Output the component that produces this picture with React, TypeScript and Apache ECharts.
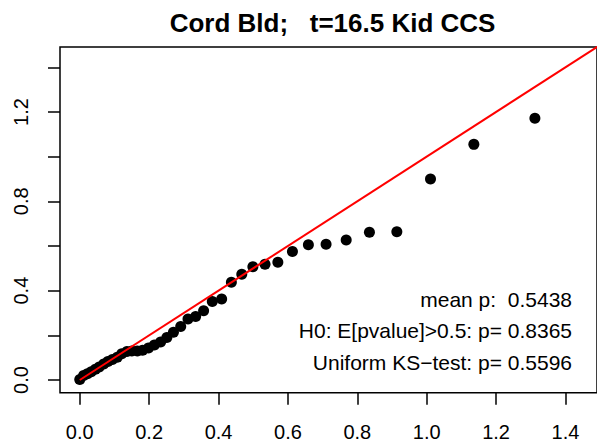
import React, { useEffect, useRef } from "react";
import * as echarts from "echarts";

const titleText = "Cord Bld;   t=16.5 Kid CCS";
const expectedQ = [1.312, 1.136, 1.011, 0.914, 0.835, 0.768, 0.71, 0.659, 0.613, 0.571, 0.534, 0.499, 0.467, 0.437, 0.409, 0.382, 0.357, 0.334, 0.312, 0.291, 0.27, 0.251, 0.233, 0.215, 0.198, 0.181, 0.166, 0.15, 0.136, 0.121, 0.108, 0.094, 0.081, 0.069, 0.056, 0.045, 0.033, 0.022, 0.011, 0.0];
const observedQ = [1.172, 1.055, 0.9, 0.664, 0.661, 0.627, 0.608, 0.605, 0.575, 0.527, 0.518, 0.507, 0.473, 0.438, 0.363, 0.351, 0.31, 0.284, 0.273, 0.239, 0.214, 0.19, 0.17, 0.157, 0.143, 0.133, 0.13, 0.13, 0.127, 0.117, 0.102, 0.092, 0.083, 0.072, 0.058, 0.048, 0.037, 0.028, 0.02, 0.002];
const refLine = [[0, 0], [1.6, 1.6]];
const xTicks = [0, 0.2, 0.4, 0.6, 0.8, 1.0, 1.2, 1.4];
const yTicks = [0, 0.2, 0.4, 0.6, 0.8, 1.0, 1.2, 1.4];
const yLabels = [0, 0.4, 0.8, 1.2];
const statLines = ["mean p:  0.5438", "H0: E[pvalue]>0.5: p= 0.8365", "Uniform KS\u2212test: p= 0.5596"];

export default function App() {
  const ref = useRef<HTMLDivElement>(null);
  useEffect(() => {
    if (!ref.current) return;
    const chart = echarts.init(ref.current, null, { renderer: "svg" });
    const font = "Liberation Sans, Arial, Helvetica, sans-serif";
    const statY = [299.7, 330.5, 362.2];
    chart.setOption({
      animation: false,
      backgroundColor: "#ffffff",
      grid: {
        left: 60,
        top: 47,
        width: 545,
        height: 345.7,
        show: true,
        borderColor: "#000",
        borderWidth: 1.5,
        backgroundColor: "transparent",
      },
      xAxis: {
        type: "value",
        min: -0.057,
        max: 1.491,
        axisLine: { show: false, onZero: false },
        splitLine: { show: false },
        axisTick: {
          show: true,
          length: 12,
          customValues: xTicks,
          lineStyle: { color: "#000", width: 1.5 },
        },
        axisLabel: {
          customValues: xTicks,
          formatter: (v: number) => v.toFixed(1),
          color: "#000",
          fontSize: 20,
          fontFamily: font,
          margin: 29,
        },
      },
      yAxis: {
        type: "value",
        min: -0.057,
        max: 1.491,
        axisLine: { show: false, onZero: false },
        splitLine: { show: false },
        axisTick: {
          show: true,
          length: 12,
          customValues: yTicks,
          lineStyle: { color: "#000", width: 1.5 },
        },
        axisLabel: {
          customValues: yLabels,
          formatter: (v: number) => v.toFixed(1),
          color: "#000",
          fontSize: 20,
          fontFamily: font,
          rotate: 90,
          margin: 29,
        },
      },
      series: [
        {
          type: "scatter",
          data: expectedQ.map((x, i) => [x, observedQ[i]]),
          symbol: "circle",
          symbolSize: 11,
          itemStyle: { color: "#000", opacity: 1 },
          z: 2,
        },
        {
          type: "line",
          data: refLine,
          symbol: "none",
          lineStyle: { color: "#ff0000", width: 2 },
          clip: true,
          z: 3,
        },
      ],
      graphic: [
        {
          type: "text",
          x: 332.5,
          y: 22.5,
          style: {
            text: titleText,
            font: `bold 26px ${font}`,
            fill: "#000",
            textAlign: "center",
            textVerticalAlign: "middle",
          },
        },
        ...statLines.map((t, i) => ({
          type: "text",
          x: 572,
          y: statY[i],
          style: {
            text: t,
            font: `21px ${font}`,
            fill: "#000",
            textAlign: "right",
            textVerticalAlign: "middle",
          },
        })),
      ],
    });
    return () => chart.dispose();
  }, []);
  return (
    <div
      ref={ref}
      style={{ position: "absolute", left: 0, top: 0, width: 597, height: 443, background: "#fff" }}
    />
  );
}
